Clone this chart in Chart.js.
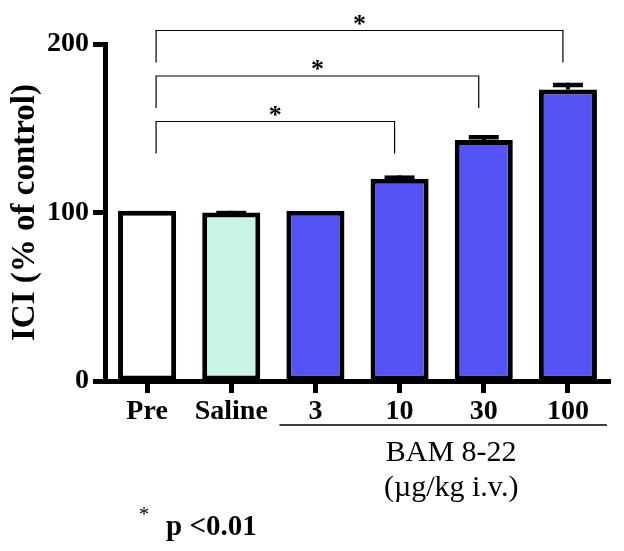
<!DOCTYPE html>
<html lang="en">
<head>
<meta charset="UTF-8">
<title>ICI (% of control)</title>
<style>
    body { margin: 0; background: #fff; }
    #wrap { width: 624px; height: 551px; }
</style>
</head>
<body>
<div id="wrap"><canvas id="chart" width="624" height="551"></canvas></div>
<script src="https://cdn.jsdelivr.net/npm/chart.js"></script>
<script>
    const categories = ['Pre', 'Saline', '3', '10', '30', '100'];
    const values = [101, 100, 101, 120, 143, 173];
    const errors = [0, 1, 0, 2, 3, 4];
    const yTicks = [0, 100, 200];
    // significance brackets: [from, to, level, leg end] in data units
    const brackets = [
        [0, 3, 154, 135],
        [0, 4, 181, 162],
        [0, 5, 208, 189]
    ];

    const serif = '"Liberation Serif", "Times New Roman", serif';

    const errorBars = {
        id: 'errorBars',
        afterDatasetsDraw(chart) {
            const ctx = chart.ctx;
            const x = chart.scales.x, y = chart.scales.y;
            ctx.save();
            ctx.fillStyle = '#000';
            values.forEach((v, i) => {
                if (!errors[i]) return;
                const cx = x.getPixelForValue(i);
                const top = y.getPixelForValue(v + errors[i]);
                const base = y.getPixelForValue(v);
                ctx.fillRect(cx - 2, top, 4, base - top);
                ctx.fillRect(cx - 15, top, 30, 4.5);
            });
            ctx.restore();
        }
    };

    const annotations = {
        id: 'annotations',
        afterDraw(chart) {
            const ctx = chart.ctx;
            const x = chart.scales.x, y = chart.scales.y;
            ctx.save();
            ctx.strokeStyle = '#000';
            ctx.fillStyle = '#000';
            ctx.lineWidth = 1.2;
            ctx.textAlign = 'center';
            ctx.textBaseline = 'alphabetic';
            ctx.font = 'bold 26px ' + serif;
            brackets.forEach(b => {
                const x1 = x.getPixelForValue(b[0]) + 9;
                const x2 = x.getPixelForValue(b[1]) - 5;
                const yl = y.getPixelForValue(b[2]);
                const ye = y.getPixelForValue(b[3]);
                ctx.beginPath();
                ctx.moveTo(x1, ye);
                ctx.lineTo(x1, yl);
                ctx.lineTo(x2, yl);
                ctx.lineTo(x2, ye);
                ctx.stroke();
                ctx.fillText('*', (x1 + x2) / 2, yl + 1);
            });

            // group underline and label
            const u1 = x.getPixelForValue(2) - 36;
            const u2 = x.getPixelForValue(5) + 39;
            ctx.lineWidth = 1.5;
            ctx.beginPath();
            ctx.moveTo(u1, 425);
            ctx.lineTo(u2, 425);
            ctx.stroke();
            ctx.font = '30px ' + serif;
            const mid = (u1 + u2) / 2 + 8;
            ctx.fillText('BAM 8-22', mid, 461);
            ctx.fillText('(\u00b5g/kg i.v.)', mid, 496);

            // footnote
            ctx.textAlign = 'left';
            ctx.font = '20px ' + serif;
            ctx.fillText('*', 139, 521);
            ctx.font = 'bold 29px ' + serif;
            ctx.fillText('p <0.01', 166, 535);
            ctx.restore();
        }
    };

    new Chart(document.getElementById('chart'), {
        type: 'bar',
        data: {
            labels: categories,
            datasets: [{
                data: values,
                backgroundColor: ['#ffffff', '#c8f5e6', '#5454f6', '#5454f6', '#5454f6', '#5454f6'],
                borderColor: '#000',
                borderWidth: 5,
                borderSkipped: false,
                barPercentage: 0.69,
                categoryPercentage: 1
            }]
        },
        options: {
            responsive: false,
            animation: false,
            layout: { padding: { top: 44, right: 14, left: 0, bottom: 0 } },
            plugins: {
                legend: { display: false },
                tooltip: { enabled: false }
            },
            scales: {
                x: {
                    afterFit(scale) { scale.height = 170; },
                    grid: {
                        offset: false,
                        drawOnChartArea: false,
                        tickLength: 12,
                        tickWidth: 5,
                        tickColor: '#000'
                    },
                    border: { color: '#000', width: 5 },
                    ticks: {
                        color: '#000',
                        padding: 2,
                        font: { family: serif, size: 28, weight: 'bold' }
                    }
                },
                y: {
                    min: 0,
                    max: 200,
                    afterFit(scale) { scale.width = 105; },
                    afterBuildTicks(scale) { scale.ticks = yTicks.map(v => ({ value: v })); },
                    grid: {
                        drawOnChartArea: false,
                        tickLength: 12,
                        tickWidth: 5,
                        tickColor: '#000'
                    },
                    border: { color: '#000', width: 5 },
                    ticks: {
                        color: '#000',
                        padding: 4,
                        font: { family: serif, size: 28, weight: 'bold' }
                    },
                    title: {
                        display: true,
                        text: 'ICI (% of control)',
                        color: '#000',
                        padding: { top: 6, bottom: 0 },
                        font: { family: serif, size: 33, weight: 'bold' }
                    }
                }
            }
        },
        plugins: [errorBars, annotations]
    });
</script>
</body>
</html>
